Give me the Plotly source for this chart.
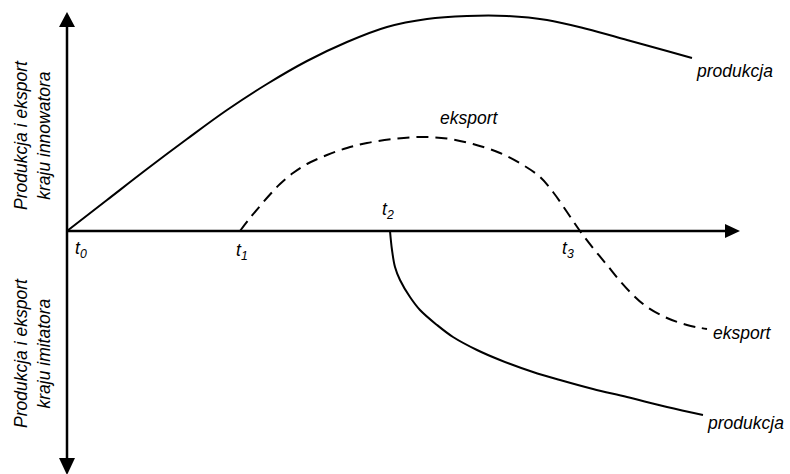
import plotly.graph_objects as go

# Conceptual diagram values (time on x, volume on y; innovator above axis, imitator below)
innov_prod_t = [0, 40, 80, 120, 160, 200, 240, 280, 320, 360, 400, 440, 480, 520, 560, 600, 625]
innov_prod_v = [0, 31, 62, 92, 121, 147, 170, 189, 204, 212, 215, 215, 211, 202, 191, 180, 173]

export_t = [173, 183, 193, 203, 213, 226, 240, 260, 280, 300, 326, 353, 380, 406, 433,
            456, 473, 486, 500, 513, 526, 540, 553, 566, 580, 600, 620, 640]
export_v = [0, 13, 25, 36.5, 47, 58, 67, 76, 83, 88, 92, 94, 92.5, 87, 78,
            66, 54, 39, 19, 0, -17, -34, -50, -64, -76, -87, -94, -98]

imit_prod_t = [323, 325, 328, 333, 343, 353, 370, 386, 410, 433, 466, 493, 526, 560, 600, 636]
imit_prod_v = [0, -19, -36, -49, -66, -79, -94, -106, -119, -129, -141, -149, -158, -166, -176, -184]

time_marks = ["t<sub>0</sub>", "t<sub>1</sub>", "t<sub>2</sub>", "t<sub>3</sub>"]
time_mark_t = [14, 175, 321, 501]
time_mark_v = [-18, -20, 21, -18]

X_MIN, X_MAX = -67, 723
Y_MIN, Y_MAX = -243, 231
AXIS_X_END = 673
AXIS_Y_TOP = 219
AXIS_Y_BOTTOM = -244

FONT = "Liberation Sans, Arial, sans-serif"
FS = 17.5

fig = go.Figure()

line_style = dict(color="black", width=2, shape="spline", smoothing=1, simplify=False)
fig.add_trace(go.Scatter(x=innov_prod_t, y=innov_prod_v, mode="lines",
                         line=line_style, hoverinfo="skip"))
fig.add_trace(go.Scatter(x=export_t, y=export_v, mode="lines",
                         line=dict(line_style, dash="12px,7px"), hoverinfo="skip"))
fig.add_trace(go.Scatter(x=imit_prod_t, y=imit_prod_v, mode="lines",
                         line=line_style, hoverinfo="skip"))

shapes = [
    dict(type="line", x0=0, y0=0, x1=AXIS_X_END - 10, y1=0, line=dict(color="black", width=2.5)),
    dict(type="line", x0=0, y0=AXIS_Y_BOTTOM + 14, x1=0, y1=AXIS_Y_TOP - 12, line=dict(color="black", width=2.5)),
    # arrowheads
    dict(type="path", path=f"M {AXIS_X_END-15},7 L {AXIS_X_END},0 L {AXIS_X_END-15},-7 Z",
         fillcolor="black", line=dict(color="black", width=0)),
    dict(type="path", path=f"M -8,{AXIS_Y_TOP-15} L 0,{AXIS_Y_TOP} L 8,{AXIS_Y_TOP-15} Z",
         fillcolor="black", line=dict(color="black", width=0)),
    dict(type="path", path=f"M -8,{AXIS_Y_BOTTOM+17} L 0,{AXIS_Y_BOTTOM} L 8,{AXIS_Y_BOTTOM+17} Z",
         fillcolor="black", line=dict(color="black", width=0)),
]

ann = []
def label(text, x, y, xanchor="left", angle=0):
    ann.append(dict(text=text, x=x, y=y, xref="x", yref="y", showarrow=False,
                    xanchor=xanchor, yanchor="middle", textangle=angle,
                    font=dict(family=FONT, size=FS, color="black", style="italic")))

label("produkcja", 627, 160)
label("eksport", 402, 113, "center")
label("eksport", 644, -102)
label("produkcja", 638, -192)
for txt, t, v in zip(time_marks, time_mark_t, time_mark_v):
    label(txt, t, v, "center")
label("Produkcja i eksport<br>kraju innowatora", -35, 96, "center", -90)
label("Produkcja i eksport<br>kraju imitatora", -35, -122, "center", -90)

fig.update_layout(
    width=790, height=474,
    margin=dict(l=0, r=0, t=0, b=0),
    paper_bgcolor="white", plot_bgcolor="white",
    showlegend=False,
    xaxis=dict(range=[X_MIN, X_MAX], visible=False, fixedrange=True),
    yaxis=dict(range=[Y_MIN, Y_MAX], visible=False, fixedrange=True),
    shapes=shapes, annotations=ann,
)

fig.write_html("out.html",
               config={"displayModeBar": False, "staticPlot": True},
               post_script="document.body.style.margin='0';document.body.style.overflow='hidden';")
